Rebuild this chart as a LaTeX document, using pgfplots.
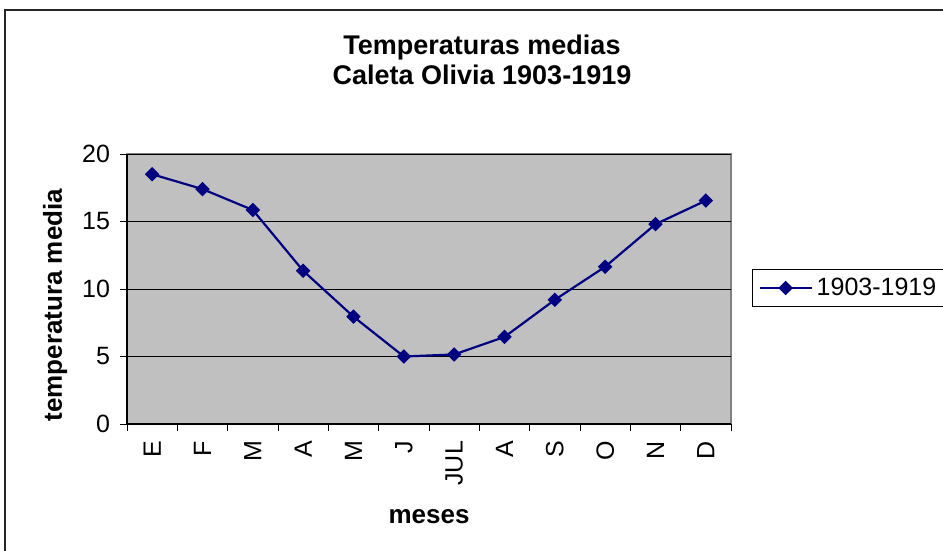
\documentclass[border=0pt]{standalone}
\usepackage{fontspec}
\setmainfont{Liberation Sans}
\usepackage{pgfplots}
\pgfplotsset{compat=1.18}
\definecolor{navyline}{HTML}{000080}
\definecolor{plotgray}{HTML}{C0C0C0}
\definecolor{borderg}{HTML}{808080}

\begin{document}
\begin{tikzpicture}
  % page = 943 x 551 px, 1 px = 0.5pt
  \useasboundingbox (0pt,0pt) rectangle (471.5pt,-275.5pt);
  \draw[line width=0.9pt, black!85] (2.5pt,-276pt) -- (2.5pt,-5pt) -- (472pt,-5pt);
  \node[font=\bfseries\fontsize{13.5}{15}\selectfont, align=center] at (241pt,-30pt)
    {Temperaturas medias\\Caleta Olivia 1903-1919};
  \begin{axis}[
    at={(63.5pt,-212pt)}, anchor=south west,
    scale only axis, width=302pt, height=135pt,
    xmin=0.5, xmax=12.5, ymin=0, ymax=20,
    xtick={1,...,12},
    xticklabels={E,F,M,A,M,J,JUL,A,S,O,N,D},
    minor xtick={0.5,1.5,...,12.5},
    ytick={0,5,10,15,20},
    major x tick style={draw=none},
    tick align=outside,
    major tick length=3.5pt, minor tick length=3.5pt,
    tick style={black, line width=0.5pt},
    axis x line*=bottom, axis y line*=left,
    axis line style={-, black, line width=0.8pt},
    axis background/.style={fill=plotgray, draw=borderg, line width=1pt},
    ymajorgrids, major grid style={black, line width=0.5pt},
    /pgf/number format/assume math mode=true,
    ticklabel style={font=\fontsize{12.5}{14}\selectfont},
    yticklabel style={xshift=-1.5pt},
    xticklabel style={rotate=90, anchor=east, xshift=-1.5pt},
    xlabel={meses}, ylabel={temperatura media},
    label style={font=\bfseries\fontsize{13}{15}\selectfont},
    xlabel style={at={(axis description cs:0.5,-0.344)}, anchor=center},
    ylabel style={at={(axis description cs:-0.119,0.44)}, anchor=center},
    legend style={at={(axis description cs:1.0348,0.504)}, anchor=west,
      draw=black, line width=0.5pt, font=\fontsize{12.5}{14}\selectfont,
      inner xsep=3pt, inner ysep=2pt},
    legend image code/.code={
      \draw[mark repeat=2, mark phase=2, #1]
        plot coordinates {(0pt,0pt) (13pt,0pt) (26pt,0pt)};},
  ]
  \addplot[navyline, line width=1.1pt, mark=square*, mark size=2.3pt,
    mark options={solid, rotate=45, fill=navyline, line width=0.5pt}]
    coordinates {
      (1,18.5) (2,17.4) (3,15.85) (4,11.35) (5,7.95) (6,5.0)
      (7,5.15) (8,6.45) (9,9.2) (10,11.65) (11,14.8) (12,16.55)};
  \legend{1903-1919}
  \end{axis}
\end{tikzpicture}
\end{document}
